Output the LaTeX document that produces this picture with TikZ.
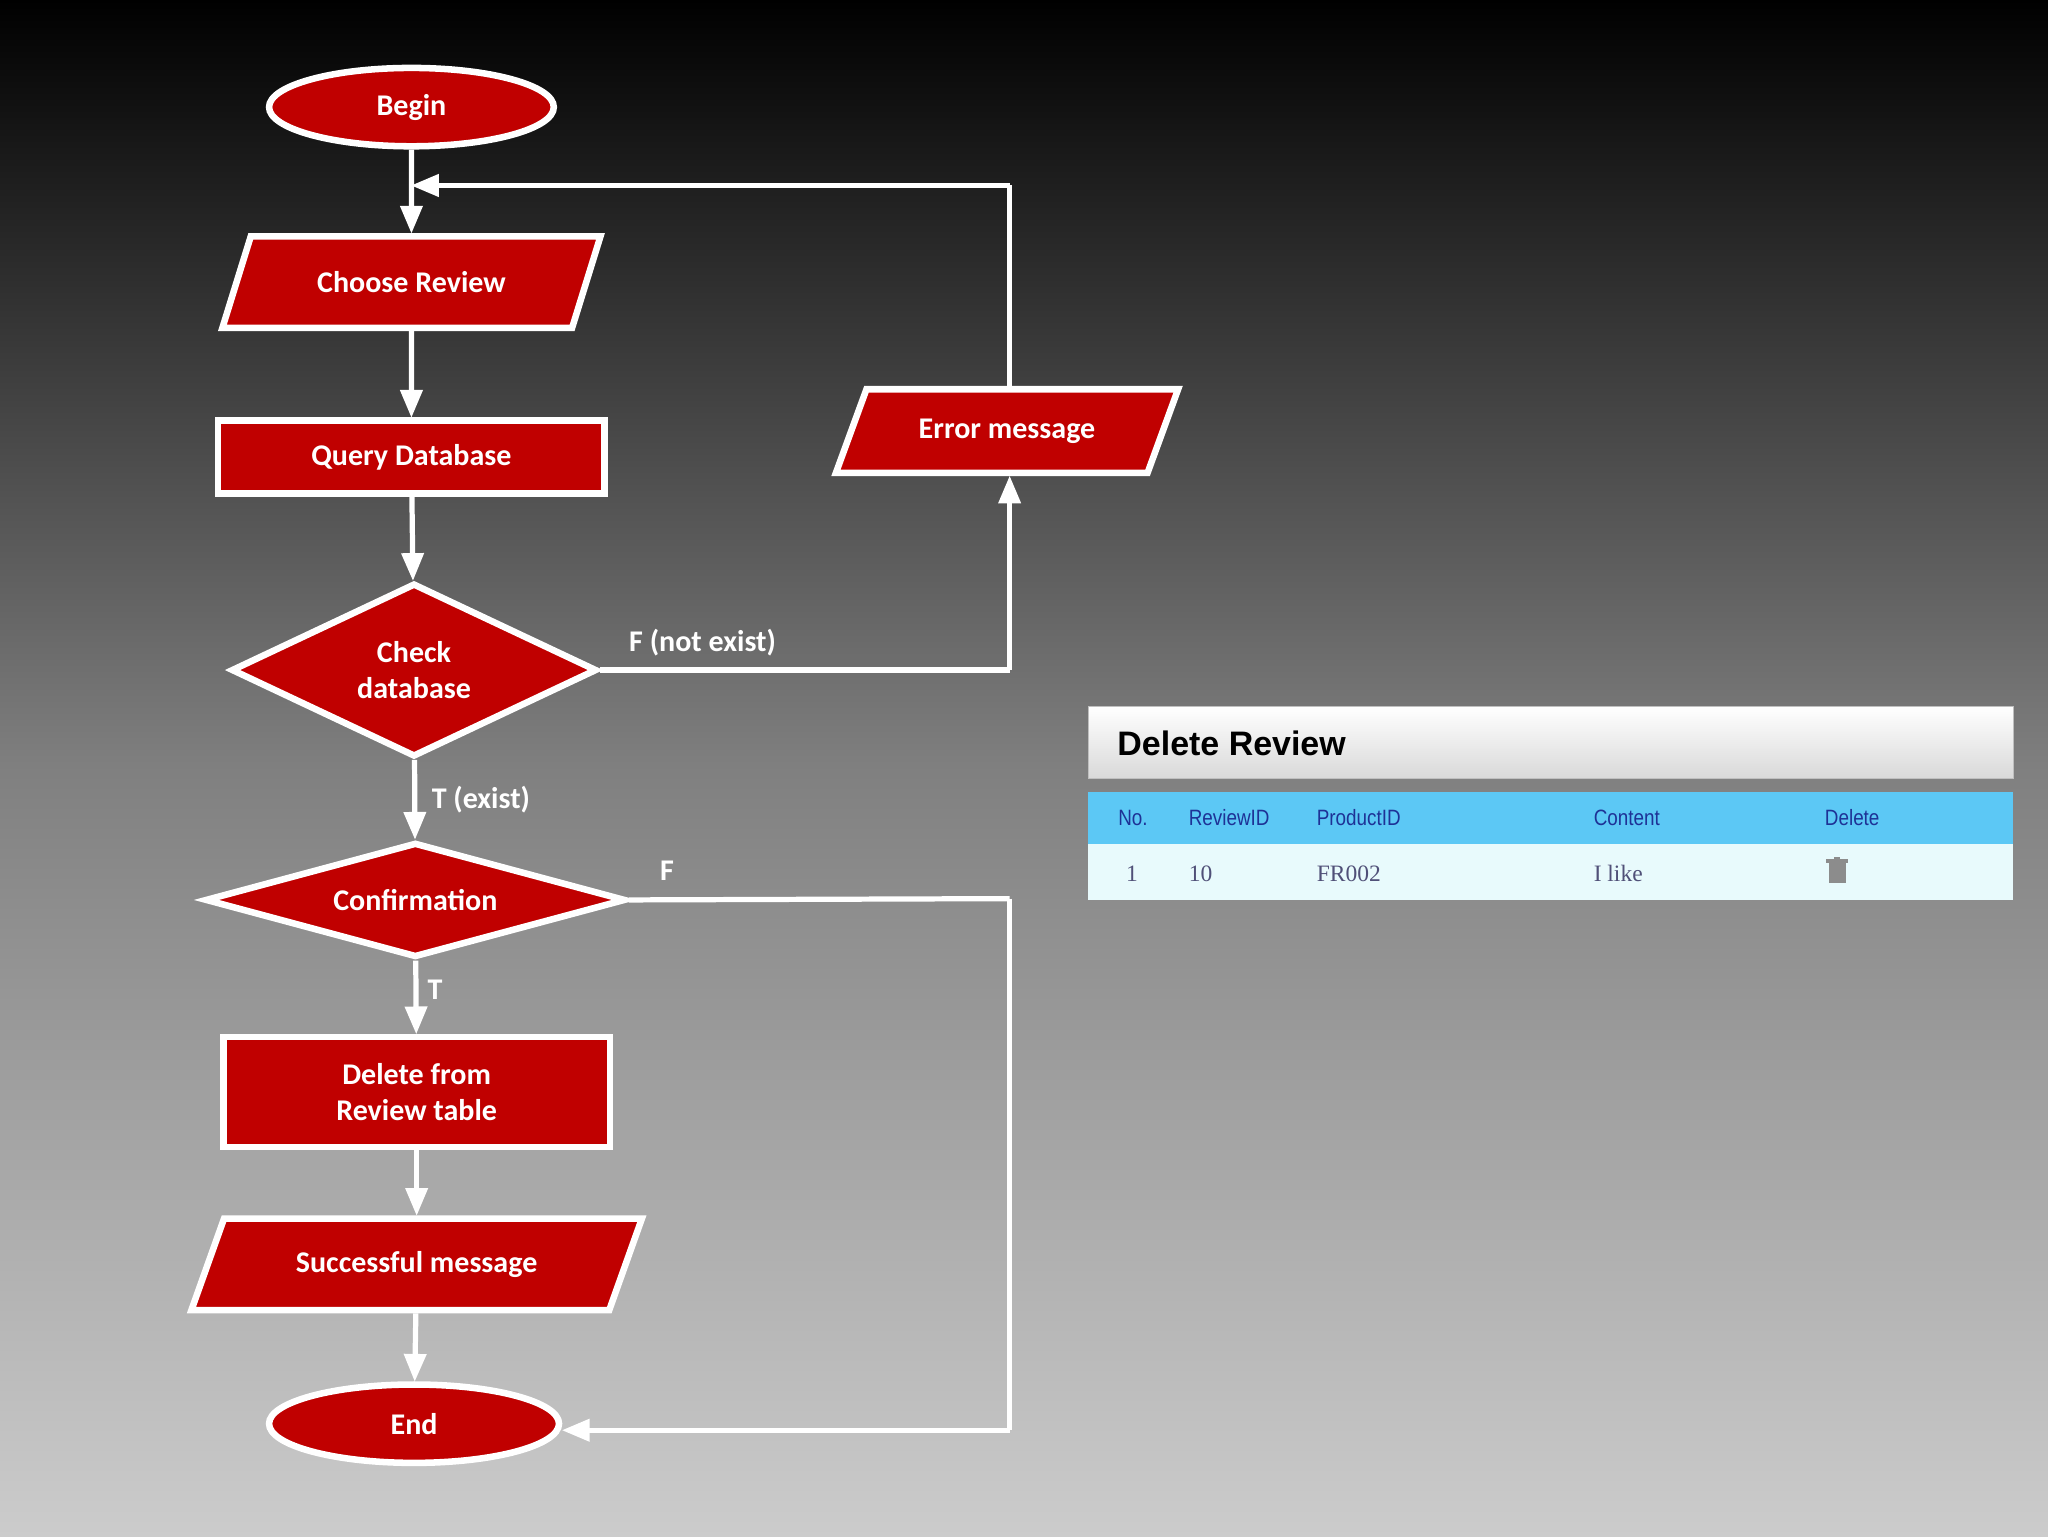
\documentclass[tikz,border=0pt]{standalone}
\usepackage{fontspec}
\setmainfont{Carlito}
\newfontfamily\tablefont{Liberation Sans}
\newfontfamily\narrowfont{Liberation Sans}[FakeStretch=0.85]
\newfontfamily\cellfont{Liberation Serif}
\usetikzlibrary{arrows}
\usetikzlibrary{shapes.geometric}
\definecolor{flowred}{RGB}{192,0,0}
\definecolor{headblue}{RGB}{92,200,245}
\definecolor{rowblue}{RGB}{232,250,252}
\definecolor{headtext}{RGB}{30,50,150}
\definecolor{celltext}{RGB}{80,80,120}
\tikzset{
  base/.style={draw=white, line width=5pt, fill=flowred, text=white,
    font=\fontsize{23}{28}\selectfont\bfseries, align=center, inner sep=0pt},
  term/.style={base, ellipse, minimum width=218, minimum height=60},
  proc/.style={base, rectangle, minimum width=296, minimum height=56},
  io/.style={base, trapezium, trapezium left angle=52, trapezium right angle=128,
    trapezium stretches=true, minimum height=70},
  dec/.style={base, diamond, inner sep=0pt},
  flow/.style={draw=white, line width=4pt, -triangle 45},
  link/.style={draw=white, line width=4pt},
  lbl/.style={text=white, font=\fontsize{23}{28}\selectfont\bfseries, inner sep=1pt}
}

\begin{document}
\begin{tikzpicture}[x=1pt,y=1pt,yscale=-1]
\useasboundingbox (0,0) rectangle (1568,1176);
% background
\shade[top color=black, bottom color=black!20, middle color=black!50] (0,0) rectangle (1568,1176);

% flow chart
\node[term] (begin) at (315,82) {Begin};
\node[io, minimum width=290] (choose) at (315,216) {Choose Review};
\node[proc] (query) at (315,350) {Query Database};
\node[dec, minimum width=280, minimum height=133, aspect=2.1] (check) at (317,513) {Check\\database};
\node[dec, minimum width=322, minimum height=88, aspect=3.7] (confirm) at (318,689) {Confirmation};
\node[proc, minimum height=84] (delete) at (319,836) {Delete from\\Review table};
\node[io, minimum width=345] (success) at (319,968) {Successful message};
\node[term, minimum width=222] (end) at (317,1090) {End};
\node[io, minimum width=262, minimum height=64] (error) at (771,330) {Error message};

\coordinate (loop) at (315,142);
\coordinate (errtop) at (773,142);
\coordinate (chkright) at (773,513);
\coordinate (cnfright) at (773,688);
\coordinate (endright) at (773,1095);

\draw[flow] (begin.south) -- (choose.north);
\draw[flow] (choose) -- (query);
\draw[flow] (query) -- (check);
\draw[flow] (check) -- node[lbl, right=10pt] {T (exist)} (confirm);
\draw[flow] (confirm) -- node[lbl, right=6pt, pos=0.4] {T} (delete);
\draw[flow] (delete) -- (success);
\draw[flow] (success) -- (end);
\draw[link] (error.north -| errtop) -- (errtop);
\draw[flow] (errtop) -- (loop);
\draw[link] (check.east) -- node[lbl, above=8pt, pos=0.25] {F (not exist)} (chkright);
\draw[flow] (chkright) -- (error.south -| chkright);
\draw[link] (confirm.east) -- node[lbl, above=12pt, pos=0.1] {F} (cnfright);
\draw[link] (cnfright) -- (endright);
\draw[flow] (endright) -- (end.east |- endright);

% delete review panel
\shade[top color=white, bottom color=black!15, draw=black!25] (833,541) rectangle (1541,596);
\node[anchor=west, font=\tablefont\bfseries\fontsize{26}{30}\selectfont] (title) at (852,569) {Delete Review};
\fill[headblue] (833,606) rectangle (1541,646);
\fill[rowblue] (833,646) rectangle (1541,689);
\foreach \x/\t in {856/No., 910/ReviewID, 1008/ProductID, 1220/Content, 1397/Delete}
  \node[anchor=west, inner sep=0pt, text=headtext, font=\narrowfont\fontsize{17}{20}\selectfont] at (\x,626) {\t};
\foreach \x/\t in {862/1, 910/10, 1008/FR002, 1220/I like}
  \node[anchor=west, inner sep=0pt, text=celltext, font=\cellfont\fontsize{18}{20}\selectfont] at (\x,669) {\t};
% trash can
\fill[black!45] (1400,661) rectangle (1413,676);
\fill[black!45] (1398,658) rectangle (1415,661);
\fill[black!45] (1404,656) rectangle (1409,658);
\end{tikzpicture}
\end{document}
